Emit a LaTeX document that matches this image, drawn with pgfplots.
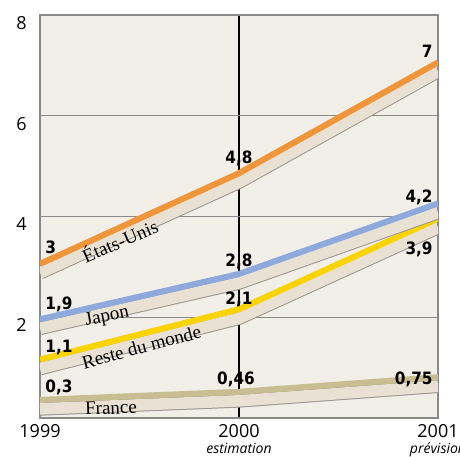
\documentclass[border=0pt]{standalone}
\usepackage{fontspec}
\setmainfont{Open Sans}
\newfontfamily\valfont{DejaVu Sans Condensed}
\newfontfamily\namefont{Liberation Serif}
\usepackage{pgfplots}
\pgfplotsset{compat=1.18}

\definecolor{bgc}{HTML}{F2EEE8}
\definecolor{bandc}{HTML}{E9E1D3}
\definecolor{edgec}{HTML}{9A968E}
\definecolor{usc}{HTML}{F0963A}
\definecolor{jpc}{HTML}{8EA9DB}
\definecolor{rdmc}{HTML}{F9D400}
\definecolor{frc}{HTML}{C9BD92}
\definecolor{gridc}{HTML}{8A8A8A}

% ribbon: coloured top edge + beige front face with thin outline
\newcommand{\ribbon}[2]{%
  \addplot[draw=edgec, line width=6.8pt, yshift=-3pt] coordinates {#2};
  \addplot[draw=bandc, line width=5.8pt, yshift=-3pt] coordinates {#2};
  \addplot[draw=#1, line width=3pt, yshift=1.5pt] coordinates {#2};
}

\newcommand{\val}[1]{{\valfont\bfseries\fontsize{8.5}{10}\selectfont #1}}
\newcommand{\nom}[1]{{\namefont\fontsize{9.5}{10}\selectfont #1}}

\begin{document}
\begin{tikzpicture}
\begin{axis}[
    at={(0,0)}, anchor=south west,
    scale only axis,
    width=199pt, height=201.5pt,
    xmin=1999, xmax=2001,
    ymin=0, ymax=8,
    xtick={1999,2000,2001},
    xticklabels={1999,
      {2000\\[-2pt]{\fontsize{7}{8}\selectfont\itshape estimation}},
      {2001\\[-2pt]{\fontsize{7}{8}\selectfont\itshape prévision}}},
    ytick={2,4,6,8},
    yticklabels={2,4,6,8},
    major tick length=0pt,
    tick label style={font=\fontsize{9}{10}\selectfont},
    xticklabel style={align=center, inner sep=0pt, anchor=north, yshift=-3pt},
    yticklabel style={inner sep=0pt, anchor=east, xshift=-6.5pt, yshift=-4pt},
    ymajorgrids=true,
    xmajorgrids=true,
    y grid style={gridc, line width=0.6pt},
    x grid style={black, line width=0.6pt},
    axis line style={gridc, line width=0.8pt},
    axis background/.style={fill=bgc},
    clip=true,
]
\ribbon{frc}{(1999,0.3) (2000,0.46) (2001,0.75)}
\ribbon{rdmc}{(1999,1.1) (2000,2.1) (2001,3.9)}
\ribbon{jpc}{(1999,1.9) (2000,2.8) (2001,4.2)}
\ribbon{usc}{(1999,3) (2000,4.8) (2001,7)}

% values
\node[anchor=west, inner sep=0pt] at (axis cs:1999.025,3.39) {\val{3}};
\node[anchor=west, inner sep=0pt] at (axis cs:1999.025,2.26) {\val{1,9}};
\node[anchor=west, inner sep=0pt] at (axis cs:1999.025,1.40) {\val{1,1}};
\node[anchor=west, inner sep=0pt] at (axis cs:1999.025,0.605) {\val{0,3}};
\node[inner sep=0pt] at (axis cs:2000,5.16) {\val{4,8}};
\node[inner sep=0pt] at (axis cs:2000,3.10) {\val{2,8}};
\node[inner sep=0pt] at (axis cs:2000,2.36) {\val{2,1}};
\node[inner sep=0pt] at (axis cs:1999.985,0.77) {\val{0,46}};
\node[anchor=east, inner sep=0pt] at (axis cs:2000.975,7.27) {\val{7}};
\node[anchor=east, inner sep=0pt] at (axis cs:2000.975,4.37) {\val{4,2}};
\node[anchor=east, inner sep=0pt] at (axis cs:2000.975,3.34) {\val{3,9}};
\node[anchor=east, inner sep=0pt] at (axis cs:2000.975,0.77) {\val{0,75}};

% series names
\node[rotate=23, inner sep=0pt] at (axis cs:1999.40,3.53) {\nom{États-Unis}};
\node[rotate=11, inner sep=0pt] at (axis cs:1999.337,2.00) {\nom{Japon}};
\node[rotate=15, inner sep=0pt] at (axis cs:1999.51,1.41) {\nom{Reste du monde}};
\node[rotate=2, inner sep=0pt] at (axis cs:1999.357,0.20) {\nom{France}};
\end{axis}
\pgfresetboundingbox
\path[use as bounding box] (-20pt,-19pt) rectangle (210pt,209pt);
\end{tikzpicture}
\end{document}
